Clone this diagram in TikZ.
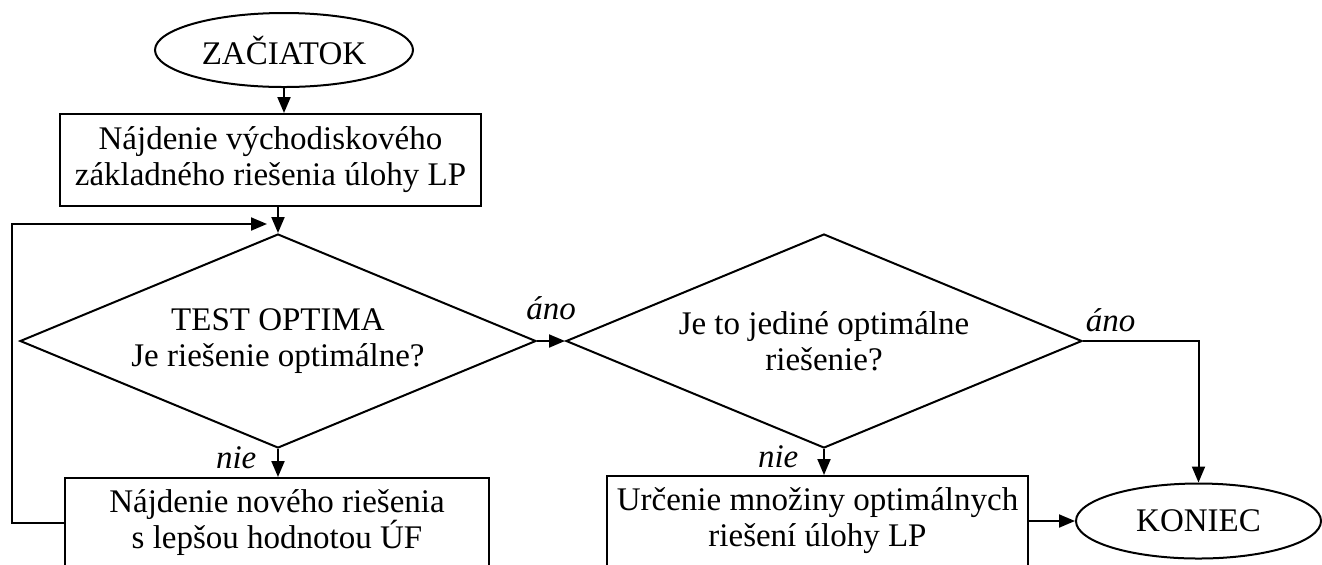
\documentclass[tikz,border=0pt]{standalone}
\usepackage{fontspec}
\setmainfont{Liberation Serif}
\usetikzlibrary{shapes.geometric,arrows.meta,positioning}

\begin{document}
\begin{tikzpicture}[x=0.5pt,y=-0.5pt,line width=1pt,
  font=\fontsize{16.5pt}{18pt}\selectfont,
  arr/.style={-{Triangle[length=8pt,width=6.5pt]}},
  kraj/.style={ellipse,draw,inner sep=0pt},
  krok/.style={rectangle,draw,align=center,inner sep=0pt},
  otazka/.style={diamond,draw,align=center,inner sep=0pt,aspect=2.4,minimum width=258pt,minimum height=107pt},
  odp/.style={font=\fontsize{16.5pt}{18pt}\selectfont\itshape}]
\useasboundingbox (0,0) rectangle (1322,564);

\path (284,50) node[kraj,minimum width=129pt,minimum height=37pt] (zac) {ZAČIATOK};
\path (270.5,160) node[krok,minimum width=210.5pt,minimum height=46pt] (naj) {Nájdenie východiskového\\základného riešenia úlohy LP};
\draw[arr] (zac.south) -- (zac.south |- naj.north);

\path (278,341) node[otazka] (test) {TEST OPTIMA\\Je riešenie optimálne?};
\draw[arr] (test.north |- naj.south) -- (test.north);

\path (277,523) node[krok,minimum width=212pt,minimum height=45pt] (nov) {Nájdenie nového riešenia\\s lepšou hodnotou ÚF};
\draw[arr] (test.south) -- node[odp,pos=0.3,left=7pt]{nie} (test.south |- nov.north);

\coordinate (spat) at (12,224);
\coordinate (vstup) at (267,224);
\draw[arr] (nov.west) -| (spat) -- (vstup);

\path (824,341) node[otazka] (jed) {Je to jediné optimálne\\riešenie?};
\draw[arr] (test.east) -- node[odp,above=7pt]{áno} (jed.west);

\path (817.5,521) node[krok,minimum width=210.5pt,minimum height=45pt] (urc) {Určenie množiny optimálnych\\riešení úlohy LP};
\draw[arr] (jed.south) -- node[odp,pos=0.3,left=9pt]{nie} (jed.south |- urc.north);

\path (1198.5,521) node[kraj,minimum width=122.5pt,minimum height=37.5pt] (kon) {KONIEC};
\draw[arr] (jed.east) -| node[odp,pos=0.12,above=1pt]{áno} (kon.north);
\draw[arr] (urc.east) -- (kon.west);
\end{tikzpicture}
\end{document}
